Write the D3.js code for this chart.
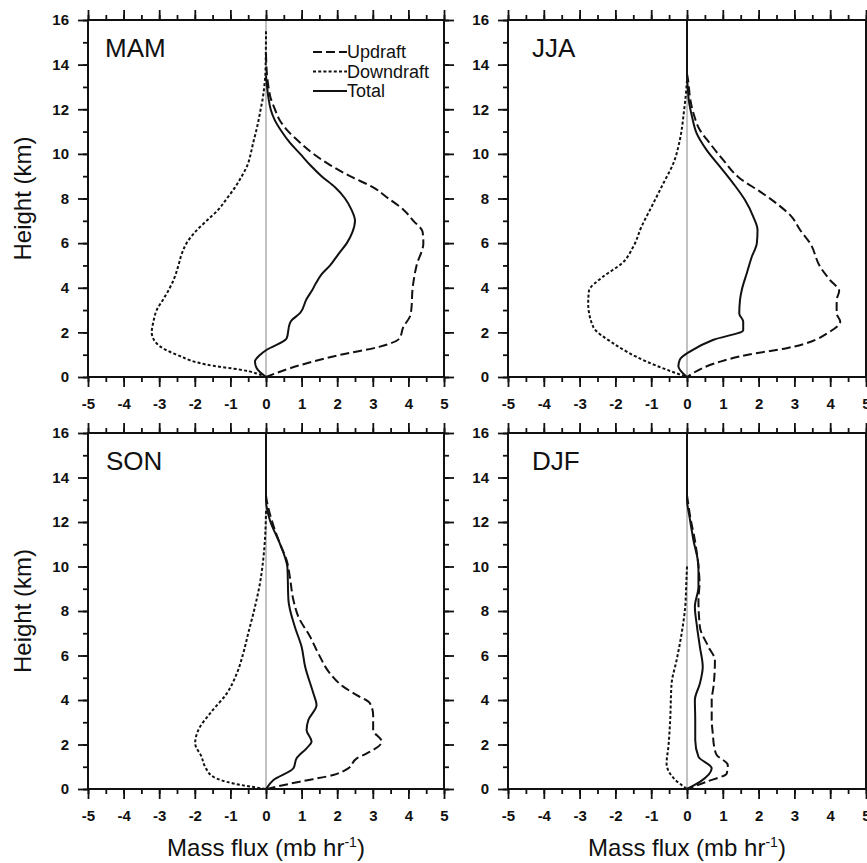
<!DOCTYPE html>
<html>
<head>
<meta charset="utf-8">
<script src="https://cdn.jsdelivr.net/npm/d3@7"></script>
<style>
  html, body { margin: 0; padding: 0; background: #fff; }
  svg { display: block; }
  text { font-family: "Liberation Sans", Arial, Helvetica, sans-serif; fill: #111; }
</style>
</head>
<body>
<svg id="chart" width="867" height="863"></svg>
<script>
// ---------------- DATA ----------------
// each point = [mass flux (mb/hr), height (km)]
const seasons = ["MAM", "JJA", "SON", "DJF"];
const seriesNames = ["Updraft", "Downdraft", "Total"];
const xTicks = [-5, -4, -3, -2, -1, 0, 1, 2, 3, 4, 5];
const yTicks = [0, 2, 4, 6, 8, 10, 12, 14, 16];

const mamUpdraft = [[0,0],[0.67,0.39],[2.08,0.99],[3.2,1.36],[3.75,1.73],[3.86,2.25],[4.04,2.7],[4.08,3],[4.12,4],[4.23,5],[4.42,6],[4.40,6.5],[4.14,7],[3.86,7.5],[3.44,8],[3.01,8.5],[2.36,9],[1.80,9.5],[1.33,10],[0.96,10.5],[0.63,11],[0.39,11.5],[0.25,12],[0.13,12.5],[0.07,13],[0.03,13.5],[0.01,14],[0,14.5]];
const mamDowndraft = [[0,0],[-0.73,0.33],[-1.48,0.5],[-2.51,1],[-3.07,1.5],[-3.21,2],[-3.16,2.5],[-3.07,3],[-2.88,3.5],[-2.70,4],[-2.56,4.5],[-2.46,5],[-2.37,5.5],[-2.23,6],[-1.99,6.5],[-1.67,7],[-1.34,7.5],[-1.10,8],[-0.87,8.5],[-0.68,9],[-0.52,9.5],[-0.43,10],[-0.36,10.5],[-0.28,11],[-0.21,11.5],[-0.15,12],[-0.09,12.5],[-0.05,13],[-0.02,13.5],[-0.01,14],[0,15.5]];
const mamTotal = [[0,0],[-0.26,0.39],[-0.31,0.7],[-0.17,0.99],[0.02,1.22],[0.58,1.73],[0.67,2.4],[0.70,2.5],[0.96,2.87],[1.14,3.5],[1.30,3.9],[1.40,4.2],[1.56,4.6],[1.80,5],[2.03,5.5],[2.27,6],[2.43,6.5],[2.50,7],[2.40,7.5],[2.22,8],[1.94,8.5],[1.56,9],[1.24,9.5],[0.96,10],[0.67,10.5],[0.44,11],[0.25,11.5],[0.13,12],[0.07,12.5],[0.03,13],[0,13.5]];

const jjaUpdraft = [[0,0],[0.93,0.69],[1.67,0.99],[2.78,1.29],[4.0,2.04],[4.28,2.48],[4.18,2.85],[4.18,3.45],[4.25,3.85],[3.99,4.35],[3.72,4.94],[3.44,5.99],[3.16,6.59],[2.92,7.19],[2.50,7.78],[2.04,8.31],[1.48,8.9],[1.01,9.73],[0.64,10.47],[0.36,11.07],[0.18,11.82],[0.08,12.56],[0.04,13.2],[0,13.6]];
const jjaDowndraft = [[0,0],[-1.13,0.69],[-2.06,1.51],[-2.62,2.25],[-2.76,3.3],[-2.74,3.85],[-2.34,4.5],[-1.82,5.09],[-1.50,5.84],[-1.27,6.74],[-0.99,7.63],[-0.66,8.68],[-0.38,9.58],[-0.20,10.62],[-0.08,11.97],[-0.03,12.7],[0,13.3]];
const jjaTotal = [[0,0],[-0.24,0.48],[-0.20,0.78],[0.09,1.15],[0.74,1.67],[1.57,2.1],[1.57,2.48],[1.46,2.85],[1.48,3.45],[1.53,3.9],[1.67,4.65],[1.81,5.39],[1.95,5.99],[1.97,6.59],[1.85,7.19],[1.62,7.93],[1.29,8.68],[0.92,9.43],[0.55,10.17],[0.27,10.92],[0.14,11.67],[0.05,12.41],[0.02,13.0],[0,13.5],[0,16]];

const sonUpdraft = [[0,0],[0.95,0.33],[1.89,0.63],[2.31,0.93],[2.55,1.38],[2.83,1.6],[3.25,2.13],[3.01,2.65],[3.01,3.32],[2.92,3.85],[2.55,4.22],[2.17,4.6],[1.80,5.19],[1.47,6.09],[1.24,6.84],[0.91,7.74],[0.77,8.49],[0.67,9.53],[0.58,10.28],[0.39,11.03],[0.16,12.08],[0.02,12.98],[0,13.2]];
const sonDowndraft = [[0,0],[-0.92,0.25],[-1.48,0.55],[-1.71,1.0],[-1.81,1.45],[-1.99,2.05],[-1.90,2.65],[-1.57,3.4],[-1.10,4.3],[-0.82,5.19],[-0.64,6.09],[-0.50,6.99],[-0.31,8.19],[-0.17,9.24],[-0.08,10.28],[-0.02,11.48],[0,12.5]];
const sonTotal = [[0,0],[0.21,0.4],[0.77,0.93],[0.86,1.38],[1.14,1.83],[1.28,2.13],[1.14,2.65],[1.19,3.1],[1.42,3.77],[1.33,4.3],[1.10,5.49],[1.00,6.39],[0.81,7.29],[0.63,8.49],[0.60,9.98],[0.53,10.43],[0.39,11.03],[0.11,12.08],[0,12.98],[0,16]];

const djfUpdraft = [[0,0],[0.55,0.33],[1.11,0.7],[1.14,1.08],[0.83,1.53],[0.76,1.9],[0.72,2.5],[0.69,3.1],[0.69,4.0],[0.74,4.6],[0.78,5.79],[0.60,6.39],[0.36,7.29],[0.32,8.49],[0.35,9.24],[0.32,9.98],[0.22,11.18],[0.09,12.23],[0.02,12.98],[0,13.2]];
const djfDowndraft = [[0,0],[-0.37,0.48],[-0.57,1.15],[-0.52,1.9],[-0.47,3.1],[-0.43,4.74],[-0.29,5.79],[-0.15,6.99],[-0.05,8.19],[-0.02,9.24],[0,10.0]];
const djfTotal = [[0,0],[0.37,0.33],[0.69,0.93],[0.32,1.45],[0.23,2.2],[0.23,3.1],[0.22,4.0],[0.36,4.74],[0.44,5.49],[0.36,6.39],[0.28,7.29],[0.22,8.19],[0.32,9.09],[0.32,9.98],[0.18,11.18],[0.07,12.23],[0,12.98],[0,16]];

const seasonData = {
  MAM: [mamUpdraft, mamDowndraft, mamTotal],
  JJA: [jjaUpdraft, jjaDowndraft, jjaTotal],
  SON: [sonUpdraft, sonDowndraft, sonTotal],
  DJF: [djfUpdraft, djfDowndraft, djfTotal]
};

// ---------------- LAYOUT ----------------
const panels = [
  { name: "MAM", x0: 88,  y0: 20,  w: 356, h: 357, yLabel: true,  xLabel: false, lx: 17, legend: true },
  { name: "JJA", x0: 508, y0: 20,  w: 358, h: 357, yLabel: false, xLabel: false, lx: 24, legend: false },
  { name: "SON", x0: 88,  y0: 433, w: 356, h: 356, yLabel: true,  xLabel: true,  lx: 18, legend: false },
  { name: "DJF", x0: 508, y0: 433, w: 358, h: 356, yLabel: false, xLabel: true,  lx: 24, legend: false }
];
const dashes = ["9,4", "3,2.2", null];
const svg = d3.select("#chart");

function styleAxis(g) {
  g.select(".domain").remove();
  g.selectAll(".tick line").attr("stroke", "#111").attr("stroke-width", 1.8);
  g.selectAll(".tick text").attr("fill", "#111").style("font-size", "15px").style("font-weight", "bold")
    .style("font-family", "'Liberation Sans', Arial, sans-serif");
}

panels.forEach(p => {
  const g = svg.append("g").attr("transform", `translate(${p.x0},${p.y0})`);
  const x = d3.scaleLinear().domain([-5, 5]).range([0, p.w]);
  const y = d3.scaleLinear().domain([0, 16]).range([p.h, 0]);
  const xMinor = d3.range(-5, 5.01, 0.5);
  const yMinor = d3.range(0, 16.01, 1);
  const fmt = d => String(d);

  // minor ticks (outward, no labels)
  [[d3.axisBottom(x), p.h], [d3.axisTop(x), 0]].forEach(([ax, ty]) => {
    g.append("g").attr("transform", `translate(0,${ty})`)
      .call(ax.tickValues(xMinor).tickSize(5).tickFormat("")).call(styleAxis);
  });
  [[d3.axisLeft(y), 0], [d3.axisRight(y), p.w]].forEach(([ax, tx]) => {
    g.append("g").attr("transform", `translate(${tx},0)`)
      .call(ax.tickValues(yMinor).tickSize(5).tickFormat("")).call(styleAxis);
  });
  // major ticks
  g.append("g").attr("transform", `translate(0,${p.h})`)
    .call(d3.axisBottom(x).tickValues(xTicks).tickSize(10).tickPadding(11).tickFormat(fmt)).call(styleAxis);
  g.append("g")
    .call(d3.axisTop(x).tickValues(xTicks).tickSize(10).tickFormat("")).call(styleAxis);
  g.append("g")
    .call(d3.axisLeft(y).tickValues(yTicks).tickSize(10).tickPadding(9).tickFormat(fmt)).call(styleAxis);
  g.append("g").attr("transform", `translate(${p.w},0)`)
    .call(d3.axisRight(y).tickValues(yTicks).tickSize(10).tickFormat("")).call(styleAxis);

  // zero line
  g.append("line").attr("x1", x(0)).attr("x2", x(0)).attr("y1", y(0)).attr("y2", y(16))
    .attr("stroke", "#999").attr("stroke-width", 1.2);

  // curves
  const line = d3.line().x(d => x(d[0])).y(d => y(d[1])).curve(d3.curveMonotoneY);
  seasonData[p.name].forEach((s, i) => {
    g.append("path").datum(s.slice().sort((a, b) => b[1] - a[1]))
      .attr("d", line).attr("fill", "none").attr("stroke", "#111")
      .attr("stroke-width", 2).attr("stroke-dasharray", dashes[i])
      .attr("stroke-linejoin", "round");
  });

  // frame
  g.append("rect").attr("x", 0).attr("y", 0).attr("width", p.w).attr("height", p.h)
    .attr("fill", "none").attr("stroke", "#111").attr("stroke-width", 2);

  // season label
  g.append("text").attr("x", p.lx).attr("y", 37).text(p.name)
    .style("font-size", "26px");

  if (p.yLabel) {
    svg.append("text").attr("transform", `translate(${p.x0 - 57},${p.y0 + p.h / 2}) rotate(-90)`)
      .attr("text-anchor", "middle").style("font-size", "24px").text("Height (km)");
  }
  if (p.xLabel) {
    const t = svg.append("text").attr("x", p.x0 + x(0)).attr("y", p.y0 + p.h + 67)
      .attr("text-anchor", "middle").style("font-size", "24px");
    t.append("tspan").text("Mass flux (mb hr");
    t.append("tspan").attr("dy", -9).style("font-size", "14px").text("-1");
    t.append("tspan").attr("dy", 9).text(")");
  }
  if (p.legend) {
    const lg = g.append("g").attr("transform", `translate(225,32)`);
    seriesNames.forEach((n, i) => {
      lg.append("line").attr("x1", 0).attr("x2", 34).attr("y1", i * 19.5).attr("y2", i * 19.5)
        .attr("stroke", "#111").attr("stroke-width", 2).attr("stroke-dasharray", dashes[i]);
      lg.append("text").attr("x", 34).attr("y", i * 19.5).attr("dy", "0.35em")
        .style("font-size", "18px").text(n);
    });
  }
});
</script>
</body>
</html>
